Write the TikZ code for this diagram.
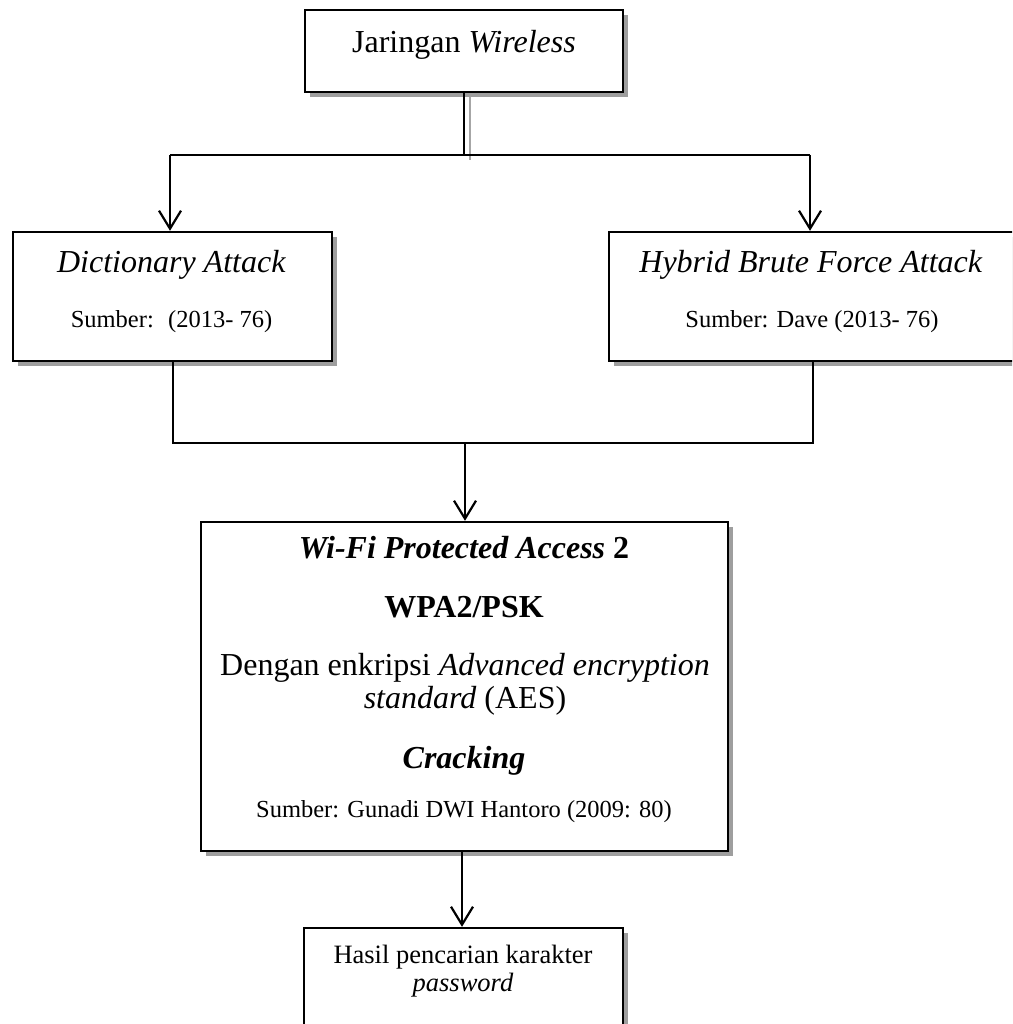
\documentclass[tikz,border=0pt]{standalone}
\usepackage{fontspec}
\setmainfont{Liberation Serif}
\usetikzlibrary{arrows.meta,shadows}
\newcommand{\fszbig}{\fontsize{32}{37}\selectfont}
\newcommand{\fszsml}{\fontsize{24.5}{29}\selectfont}
\newcommand{\fszmed}{\fontsize{26.5}{31}\selectfont}
\begin{document}
\begin{tikzpicture}[x=1pt,y=-1pt,
  boxnode/.style={draw=black, line width=2.4pt, fill=white, rectangle, inner sep=0pt,
    drop shadow={shadow xshift=5pt, shadow yshift=-5pt, fill=black!38, opacity=1}},
  conn/.style={line width=2.2pt, draw=black},
  arr/.style={conn, -{Straight Barb[length=18pt,width=22pt,line width=2.2pt]}},
  txt/.style={anchor=base, inner sep=0pt, text=black}]
\useasboundingbox (0,0) rectangle (1012,1024);
\clip (0,0) rectangle (1012,1024);
\fill[white] (0,0) rectangle (1012,1024);

% connector shadow next to top stem
\draw[line width=2pt, black!35] (470,94) -- (470,160);

% boxes
\node[boxnode, minimum width=318pt, minimum height=82pt] (top) at (464,51) {};
\node[boxnode, minimum width=319pt, minimum height=129pt] (left) at (172.5,296.5) {};
\node[boxnode, minimum width=411pt, minimum height=129pt] (right) at (814.5,296.5) {};
\node[boxnode, minimum width=527pt, minimum height=329pt] (mid) at (464.5,686.5) {};
\node[boxnode, minimum width=319pt, minimum height=132pt] (bot) at (463.5,994) {};

% texts
\node[txt] (t1) at (464,53) {\fszbig Jaringan \textit{Wireless}};
\node[txt] (t2) at (171.5,272) {\fszbig\textit{Dictionary Attack}};
\node[txt] (t3) at (171.5,327) {\fszsml Sumber:~ (2013- 76)};
\node[txt] (t4) at (811,272) {\fszbig\textit{Hybrid Brute Force Attack}};
\node[txt] (t5) at (812,327) {\fszsml Sumber: Dave (2013- 76)};
\node[txt] (t6) at (464,558) {\fszbig\textbf{\textit{Wi-Fi Protected Access} 2}};
\node[txt] (t7) at (464,617) {\fszbig\textbf{WPA2/PSK}};
\node[txt] (t8) at (465,675) {\fszbig Dengan enkripsi \textit{Advanced encryption}};
\node[txt] (t9) at (465,708) {\fszbig\textit{standard} (AES)};
\node[txt] (t10) at (464,768) {\fszbig\textbf{\textit{Cracking}}};
\node[txt] (t11) at (464,817) {\fszsml Sumber: Gunadi DWI Hantoro (2009: 80)};
\node[txt] (t12) at (463,963) {\fszmed Hasil pencarian karakter};
\node[txt] (t13) at (463,991) {\fszmed\textit{password}};

% connectors
\coordinate (j1) at (464,155);
\coordinate (jl) at (170,155);
\coordinate (jr) at (810,155);
\coordinate (k1) at (173,443);
\coordinate (k2) at (813,443);
\coordinate (km) at (465,443);
\draw[conn] (top.south) -- (j1);
\draw[conn] (jl) -- (jr);
\draw[arr] (jl) -- (jl |- left.north);
\draw[arr] (jr) -- (jr |- right.north);
\draw[conn] (k1 |- left.south) -- (k1) -- (k2) -- (k2 |- right.south);
\draw[arr] (km) -- (km |- mid.north);
\coordinate (m1) at (462,851);
\draw[arr] (m1) -- (m1 |- bot.north);
\end{tikzpicture}
\end{document}
